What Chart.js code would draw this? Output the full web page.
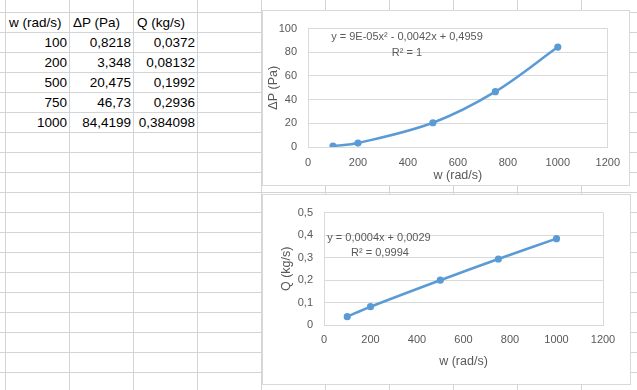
<!DOCTYPE html>
<html>
<head>
<meta charset="utf-8">
<script src="https://cdn.jsdelivr.net/npm/chart.js@4.4.1/dist/chart.umd.min.js"></script>
<style>
  html, body { margin:0; padding:0; }
  body {
    width:637px; height:390px; overflow:hidden; position:relative; background:#fff;
    font-family:'Liberation Sans', Arial, sans-serif;
    background-image:
      linear-gradient(to right, #d4d4d4 1px, transparent 1px),
      linear-gradient(to bottom, #d4d4d4 1px, transparent 1px);
    background-size:64px 100%, 100% 20px;
    background-position:5px 0, 0 12px;
  }
  .cell { position:absolute; height:20px; width:63px; font-size:13.5px; color:#000; line-height:20px; white-space:nowrap; box-sizing:border-box; padding:0 2px; }
  .hdr { text-align:left; padding-left:3px; }
  .num { text-align:right; }
  .box { position:absolute; border:1px solid #d9d9d9; background:#fff; box-sizing:border-box; }
  .box canvas { position:absolute; left:0; top:0; }
  .eq { position:absolute; transform:translate(-50%,-50%); white-space:nowrap; font-size:11px; color:#595959; line-height:13px; text-align:center; }
</style>
</head>
<body>
<div id="table"></div>
<div class="box" style="left:262px; top:10px; width:368px; height:176px;">
  <canvas id="c1" width="366" height="174" style="width:366px;height:174px"></canvas>
</div>
<div class="eq" style="left:407px; top:36px;">y = 9E-05x² - 0,0042x + 0,4959</div>
<div class="eq" style="left:407px; top:52px;">R² = 1</div>
<div class="box" style="left:262px; top:194px; width:369px; height:191px;">
  <canvas id="c2" width="367" height="189" style="width:367px;height:189px"></canvas>
</div>
<div class="eq" style="left:379px; top:237px;">y = 0,0004x + 0,0029</div>
<div class="eq" style="left:380px; top:252px;">R² = 0,9994</div>
<script>
// ---- data ----
const headers = ['w (rad/s)', 'ΔP (Pa)', 'Q (kg/s)'];
const w  = [100, 200, 500, 750, 1000];
const dP = [0.8218, 3.348, 20.475, 46.73, 84.4199];
const Q  = [0.0372, 0.08132, 0.1992, 0.2936, 0.384098];
const xTicks = [0, 200, 400, 600, 800, 1000, 1200];
const dPTicks = [0, 20, 40, 60, 80, 100];
const QTicks = [0, 0.1, 0.2, 0.3, 0.4, 0.5];

const fmt = v => String(v).replace('.', ',');

// ---- spreadsheet table ----
const tbl = document.getElementById('table');
function addCell(col, row, text, cls) {
  const d = document.createElement('div');
  d.className = 'cell ' + cls;
  d.style.left = (6 + col * 64) + 'px';
  d.style.top = (13 + row * 20) + 'px';
  d.style.lineHeight = '19px';
  d.textContent = text;
  tbl.appendChild(d);
}
headers.forEach((h, i) => addCell(i, 0, h, 'hdr'));
w.forEach((v, i) => {
  addCell(0, i + 1, fmt(v), 'num');
  addCell(1, i + 1, fmt(dP[i]), 'num');
  addCell(2, i + 1, fmt(Q[i]), 'num');
});

// ---- charts ----
Chart.defaults.font.family = "'Liberation Sans', Arial, sans-serif";
Chart.defaults.color = '#595959';
const BLUE = '#5B9BD5';
const GRID = '#d9d9d9';

function makeChart(id, ys, yTicks, yTitle, opt) {
  const n = xTicks.length;
  return new Chart(document.getElementById(id), {
    type: 'scatter',
    data: {
      datasets: [{
        data: w.map((x, i) => ({ x: x, y: ys[i] })),
        showLine: true,
        borderColor: BLUE,
        backgroundColor: BLUE,
        borderWidth: 2.5,
        pointRadius: 3.6,
        pointHoverRadius: 3.6,
        pointBorderWidth: 0,
        tension: opt.tension
      }]
    },
    options: {
      responsive: false,
      animation: false,
      events: [],
      layout: { padding: { top: opt.padTop, right: opt.padRight, left: 0, bottom: 0 } },
      plugins: { legend: { display: false }, tooltip: { enabled: false } },
      scales: {
        x: {
          type: 'linear',
          min: xTicks[0], max: xTicks[n - 1],
          afterBuildTicks: s => { s.ticks = xTicks.map(v => ({ value: v })); },
          ticks: { font: { size: 11 }, padding: opt.xTickPad, maxRotation: 0, autoSkip: false, color: '#595959', callback: v => String(v) },
          grid: { drawTicks: false, color: c => (c.index === 0 || c.index === n - 1) ? GRID : 'rgba(0,0,0,0)' },
          border: { display: true, color: GRID },
          title: { display: true, text: 'w (rad/s)', font: { size: 12.5 }, color: '#595959', padding: { top: 0, bottom: opt.xTitlePad } },
          afterFit: s => { s.height = opt.xH; }
        },
        y: {
          type: 'linear',
          min: yTicks[0], max: yTicks[yTicks.length - 1],
          afterBuildTicks: s => { s.ticks = yTicks.map(v => ({ value: v })); },
          ticks: { font: { size: 11 }, padding: 11, color: '#595959', callback: v => fmt(+v.toFixed(1)) },
          grid: { drawTicks: false, color: GRID },
          border: { display: false },
          title: { display: true, text: yTitle, font: { size: 12.5 }, color: '#595959', padding: { top: opt.yTitlePad, bottom: 0 } },
          afterFit: s => { s.width = opt.yW; }
        }
      }
    }
  });
}

makeChart('c1', dP, dPTicks, 'ΔP (Pa)', { tension: 0.35, padTop: 6, padRight: 21, xH: 38, yW: 45, xTickPad: 9, xTitlePad: 2, yTitlePad: 3 });
makeChart('c2', Q, QTicks, 'Q (kg/s)', { tension: 0.3, padTop: 14, padRight: 27, xH: 59, yW: 61, xTickPad: 8.5, xTitlePad: 14.5, yTitlePad: 16.5 });
</script>
</body>
</html>
